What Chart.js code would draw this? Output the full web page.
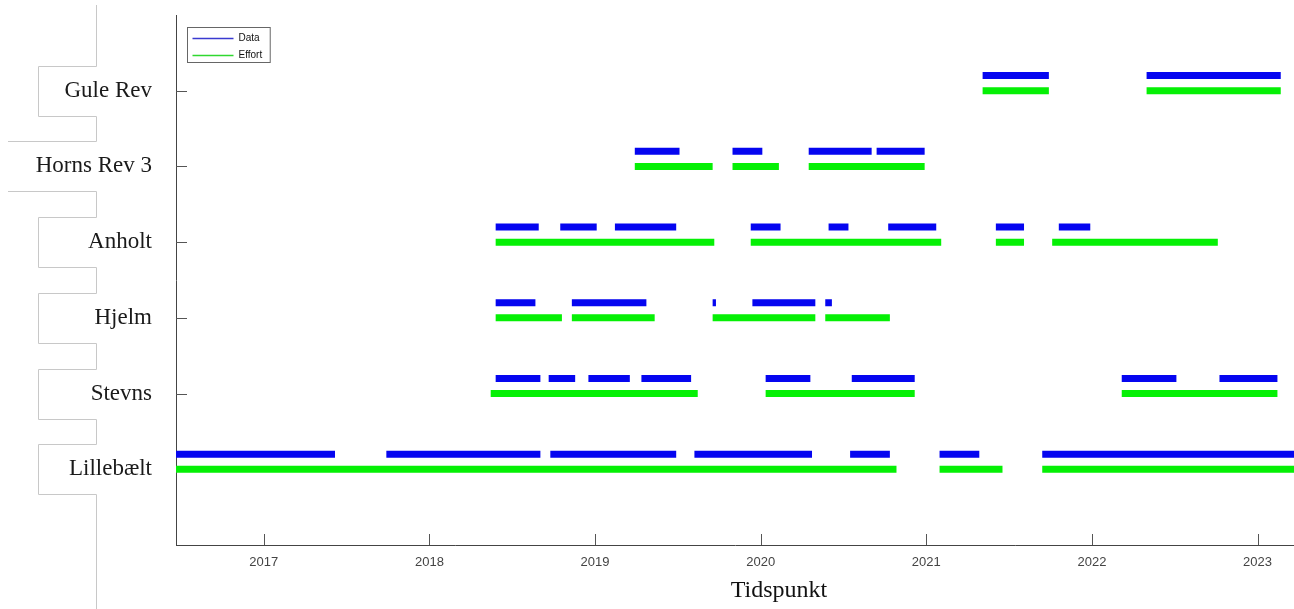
<!DOCTYPE html>
<html>
<head>
<meta charset="utf-8">
<script src="https://cdn.jsdelivr.net/npm/chart.js@4"></script>
<style>
    body { margin: 0; background: #fff; }
    canvas { display: block; }
</style>
</head>
<body>
<canvas id="timeline" width="1294" height="609"></canvas>
<script>
// sites from bottom (y = 1) to top (y = 6)
const siteNames = ['Lillebælt', 'Stevns', 'Hjelm', 'Anholt', 'Horns Rev 3', 'Gule Rev'];
const yearTicks = [2017, 2018, 2019, 2020, 2021, 2022, 2023];
const xRange = [2016.47, 2023.22];
// the original axis ran on past the cropped right edge, the title is centred on that
const fullRangeEnd = 2023.75;

// periods as [start, end] in decimal years
const lillebaeltData = [[2016.40, 2017.43], [2017.74, 2018.67], [2018.73, 2019.49], [2019.60, 2020.31], [2020.54, 2020.78], [2021.08, 2021.32], [2021.70, 2023.30]];
const lillebaeltEffort = [[2016.40, 2020.82], [2021.08, 2021.46], [2021.70, 2023.30]];

const stevnsData = [[2018.40, 2018.67], [2018.72, 2018.88], [2018.96, 2019.21], [2019.28, 2019.58], [2020.03, 2020.30], [2020.55, 2020.93], [2022.18, 2022.51], [2022.77, 2023.12]];
const stevnsEffort = [[2018.37, 2019.62], [2020.03, 2020.93], [2022.18, 2023.12]];

const hjelmData = [[2018.40, 2018.64], [2018.86, 2019.31], [2019.71, 2019.73], [2019.95, 2020.33], [2020.39, 2020.43]];
const hjelmEffort = [[2018.40, 2018.80], [2018.86, 2019.36], [2019.71, 2020.33], [2020.39, 2020.78]];

const anholtData = [[2018.40, 2018.66], [2018.79, 2019.01], [2019.12, 2019.49], [2019.94, 2020.12], [2020.41, 2020.53], [2020.77, 2021.06], [2021.42, 2021.59], [2021.80, 2021.99]];
const anholtEffort = [[2018.40, 2019.72], [2019.94, 2021.09], [2021.42, 2021.59], [2021.76, 2022.76]];

const hornsRev3Data = [[2019.24, 2019.51], [2019.83, 2020.01], [2020.29, 2020.67], [2020.70, 2020.99]];
const hornsRev3Effort = [[2019.24, 2019.71], [2019.83, 2020.11], [2020.29, 2020.99]];

const guleRevData = [[2021.34, 2021.74], [2022.33, 2023.14]];
const guleRevEffort = [[2021.34, 2021.74], [2022.33, 2023.14]];

const dataBySite = [lillebaeltData, stevnsData, hjelmData, anholtData, hornsRev3Data, guleRevData];
const effortBySite = [lillebaeltEffort, stevnsEffort, hjelmEffort, anholtEffort, hornsRev3Effort, guleRevEffort];

// Data bars sit a little above the site line, effort bars on it
function toSegments(periodsBySite, offset) {
    const pts = [];
    periodsBySite.forEach((periods, i) => {
        periods.forEach(([start, end]) => {
            pts.push({ x: start, y: i + 1 + offset }, { x: end, y: i + 1 + offset }, { x: end, y: null });
        });
    });
    return pts;
}

const serif = 'Liberation Serif';
const sans = 'Liberation Sans';

// little tick marks pointing into the plot
const innerTicks = {
    id: 'innerTicks',
    beforeDatasetsDraw(chart) {
        const { ctx, chartArea, scales: { x, y } } = chart;
        ctx.save();
        ctx.strokeStyle = '#555';
        ctx.lineWidth = 1;
        ctx.beginPath();
        x.ticks.forEach(t => {
            const px = Math.round(x.getPixelForValue(t.value)) + 0.5;
            ctx.moveTo(px, chartArea.bottom);
            ctx.lineTo(px, chartArea.bottom - 11);
        });
        y.ticks.forEach(t => {
            const py = Math.round(y.getPixelForValue(t.value)) + 0.5;
            ctx.moveTo(chartArea.left, py);
            ctx.lineTo(chartArea.left + 11, py);
        });
        ctx.stroke();
        ctx.restore();
    }
};

// faint frames left over from the label text boxes
const labelFrames = {
    id: 'labelFrames',
    beforeDraw(chart) {
        const { ctx, scales: { y } } = chart;
        const spine = 96.5;
        ctx.save();
        ctx.strokeStyle = '#c8c8c8';
        ctx.lineWidth = 1;
        ctx.beginPath();
        let prevBottom = 5;
        siteNames.slice().reverse().forEach(name => {
            const py = y.getPixelForValue(siteNames.indexOf(name) + 1);
            const top = Math.round(py - 25) + 0.5;
            const bottom = Math.round(py + 25) + 0.5;
            ctx.moveTo(spine, prevBottom);
            ctx.lineTo(spine, top);
            if (name === 'Horns Rev 3') {
                ctx.moveTo(spine, top);
                ctx.lineTo(8, top);
                ctx.moveTo(8, bottom);
                ctx.lineTo(spine, bottom);
            } else {
                ctx.lineTo(38.5, top);
                ctx.lineTo(38.5, bottom);
                ctx.lineTo(spine, bottom);
            }
            prevBottom = bottom;
        });
        ctx.moveTo(spine, prevBottom);
        ctx.lineTo(spine, chart.height);
        ctx.stroke();
        ctx.restore();
    }
};

// x axis title, centred on the full (uncropped) axis
const axisTitle = {
    id: 'axisTitle',
    afterDraw(chart) {
        const { ctx, scales: { x } } = chart;
        const cx = (x.getPixelForValue(xRange[0]) + x.getPixelForValue(fullRangeEnd)) / 2;
        ctx.save();
        ctx.font = `24px ${serif}`;
        ctx.fillStyle = '#111';
        ctx.textAlign = 'center';
        ctx.textBaseline = 'middle';
        ctx.fillText('Tidspunkt', cx, 591);
        ctx.restore();
    }
};

// boxed legend in the upper left corner of the plot
const insetLegend = {
    id: 'insetLegend',
    afterDraw(chart) {
        const { ctx, chartArea } = chart;
        const left = chartArea.left + 11.5;
        const top = chartArea.top + 12.5;
        ctx.save();
        ctx.font = `10px ${sans}`;
        const textW = Math.max(...chart.data.datasets.map(d => ctx.measureText(d.label).width));
        const w = 6 + 40 + 5 + textW + 8;
        const h = 35;
        ctx.fillStyle = '#fff';
        ctx.fillRect(left, top, w, h);
        ctx.strokeStyle = '#666';
        ctx.lineWidth = 1;
        ctx.strokeRect(left, top, w, h);
        chart.data.datasets.forEach((d, i) => {
            const cy = top + 11 + i * 17;
            ctx.strokeStyle = d.legendColor;
            ctx.lineWidth = 1.4;
            ctx.beginPath();
            ctx.moveTo(left + 5, cy);
            ctx.lineTo(left + 46, cy);
            ctx.stroke();
            ctx.fillStyle = '#111';
            ctx.textBaseline = 'middle';
            ctx.fillText(d.label, left + 51, cy);
        });
        ctx.restore();
    }
};

new Chart(document.getElementById('timeline'), {
    type: 'line',
    data: {
        datasets: [
            {
                label: 'Data',
                data: toSegments(dataBySite, 0.2),
                borderColor: '#0505f0',
                legendColor: '#3a3ad0',
                borderWidth: 7
            },
            {
                label: 'Effort',
                data: toSegments(effortBySite, 0),
                borderColor: '#05f005',
                legendColor: '#30d830',
                borderWidth: 7
            }
        ]
    },
    options: {
        responsive: false,
        animation: false,
        events: [],
        spanGaps: false,
        elements: {
            point: { radius: 0 },
            line: { borderCapStyle: 'butt', tension: 0, fill: false }
        },
        layout: { padding: { top: 15, right: 0, left: 0, bottom: 0 } },
        plugins: {
            legend: { display: false },
            tooltip: { enabled: false }
        },
        scales: {
            x: {
                type: 'linear',
                min: xRange[0],
                max: xRange[1],
                afterBuildTicks: scale => {
                    scale.ticks = yearTicks.map(v => ({ value: v }));
                },
                afterFit: scale => {
                    scale.height = 64;
                    scale.paddingLeft = 0;
                    scale.paddingRight = 0;
                },
                grid: { display: false, drawTicks: false },
                border: { display: true, color: '#444', width: 1 },
                ticks: {
                    padding: 10,
                    color: '#444',
                    font: { family: sans, size: 13 },
                    maxRotation: 0,
                    callback: v => String(v)
                }
            },
            y: {
                type: 'linear',
                min: 0,
                max: 7,
                afterBuildTicks: scale => {
                    scale.ticks = siteNames.map((n, i) => ({ value: i + 1 }));
                },
                afterFit: scale => {
                    scale.width = 176;
                    scale.paddingTop = 0;
                    scale.paddingBottom = 0;
                },
                grid: { display: false, drawTicks: false },
                border: { display: true, color: '#444', width: 1 },
                ticks: {
                    padding: 24,
                    color: '#1a1a1a',
                    font: { family: serif, size: 23 },
                    callback: v => siteNames[v - 1] || ''
                }
            }
        }
    },
    plugins: [labelFrames, innerTicks, axisTitle, insetLegend]
});
</script>
</body>
</html>
